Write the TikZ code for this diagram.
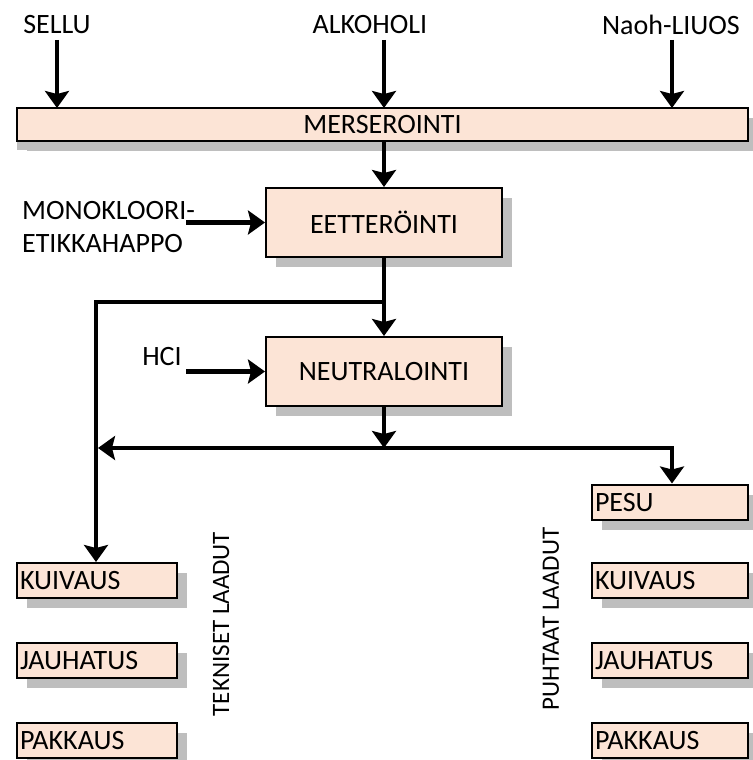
\documentclass[tikz,border=0pt]{standalone}
\usepackage{fontspec}
\setmainfont{Carlito}
\usetikzlibrary{arrows.meta,shadows,calc}
\definecolor{peach}{RGB}{252,228,214}
\definecolor{shadowgray}{RGB}{190,190,190}
\begin{document}
\begin{tikzpicture}[x=1pt,y=-1pt,
  lbl/.style={font=\fontsize{28}{32}\selectfont, inner sep=0pt},
  procbox/.style={draw=black, line width=2pt, fill=peach, inner sep=3pt,
    font=\fontsize{28}{32}\selectfont,
    general shadow={shadow xshift=10pt, shadow yshift=-10pt, fill=shadowgray}},
  smallbox/.style={procbox, minimum height=35pt, text depth=0pt, align=left},
  arr/.style={line width=4.8pt, -{Stealth[length=17pt,width=24pt,inset=3pt]}},
  ln/.style={line width=4.8pt}]
\useasboundingbox (0,0) rectangle (752,760);

% top inputs
\node[lbl] (sellu) at (57,25) {SELLU};
\node[lbl] (alk) at (370,25) {ALKOHOLI};
\node[lbl] (naoh) at (671,25) {Naoh-LIUOS};

% process bar and boxes
\node[procbox, minimum width=731pt, minimum height=33pt, inner sep=0pt,
  general shadow={shadow xshift=0pt, shadow yshift=-9pt, fill=shadowgray}] (bar) at (382.5,124.5) {MERSEROINTI};
\node[procbox, minimum width=236pt, minimum height=69pt] (eet) at (384,222.5) {EETTERÖINTI};
\node[procbox, minimum width=236pt, minimum height=69pt] (neut) at (384,371.5) {NEUTRALOINTI};

% side inputs
\node[lbl, anchor=west, align=left, font=\fontsize{28}{33}\selectfont] (mono) at (22,227) {MONOKLOORI-\\ETIKKAHAPPO};
\node[lbl] (hcl) at (162,357) {HCI};
\coordinate (monoA) at (186,222.5);
\coordinate (hclA) at (186,371.5);

% left column
\node[smallbox, minimum width=160pt, text width=154pt] (k1) at (97,580.5) {KUIVAUS};
\node[smallbox, minimum width=160pt, text width=154pt] (j1) at (97,660.5) {JAUHATUS};
\node[smallbox, minimum width=160pt, text width=154pt] (p1) at (97,740) {PAKKAUS};
% right column
\node[smallbox, minimum width=156pt, text width=150pt] (pesu) at (670,502) {PESU};
\node[smallbox, minimum width=156pt, text width=150pt] (k2) at (670,580.5) {KUIVAUS};
\node[smallbox, minimum width=156pt, text width=150pt] (j2) at (670,660.5) {JAUHATUS};
\node[smallbox, minimum width=156pt, text width=150pt] (p2) at (670,740) {PAKKAUS};

% rotated labels
\node[lbl, rotate=90, font=\fontsize{25}{29}\selectfont] (tek) at (221,624) {TEKNISET LAADUT};
\node[lbl, rotate=90, font=\fontsize{25}{29}\selectfont] (puh) at (551,619) {PUHTAAT LAADUT};

% junctions
\coordinate (b1) at (384,302);
\coordinate (b1l) at (96,302);
\coordinate (b2) at (384,448);
\coordinate (b2l) at (98,448);
\coordinate (b2r) at (672,448);

% connectors
\draw[arr] (57,40) -- (57,108);
\draw[arr] (384,40) -- (384,108);
\draw[arr] (672,40) -- (672,108);
\draw[arr] (eet.north |- bar.south) -- (eet.north);
\draw[arr] (monoA) -- (eet.west);
\draw[arr] (eet.south) -- (neut.north);
\draw[ln] (b1) -- ([xshift=-2.4pt]b1l);
\draw[arr] (b1l) -- (b1l |- k1.north);
\draw[arr] (hclA) -- (neut.west);
\draw[arr] (neut.south) -- (b2);
\draw[arr] (b2) -- (b2l);
\draw[ln] (b2) -- (b2r);
\draw[arr] ([xshift=-2.4pt]b2r) -- ++(2.4,0) -- (b2r |- pesu.north);
\end{tikzpicture}
\end{document}
